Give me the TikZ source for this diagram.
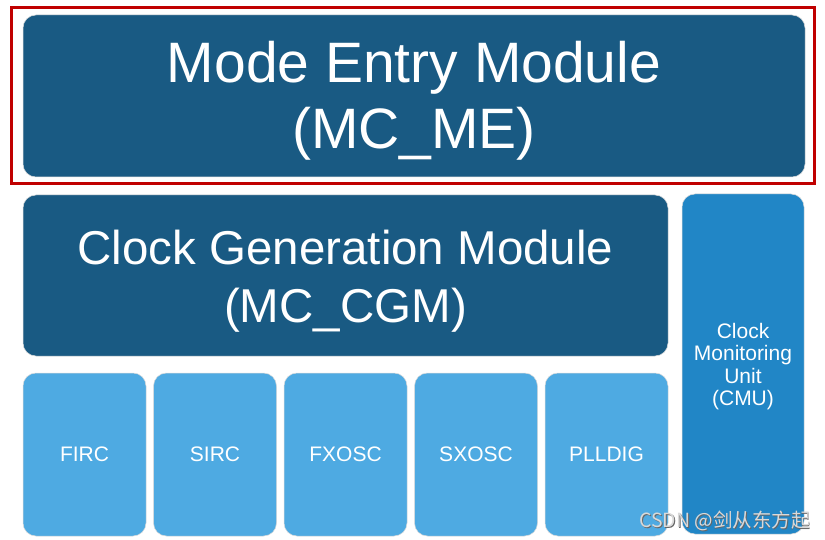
\documentclass[tikz,border=0pt]{standalone}
\usepackage{fontspec}
\setmainfont{Liberation Sans}
\newfontfamily\cjk{Noto Sans CJK SC}
\definecolor{dkblue}{HTML}{195A83}
\definecolor{mdblue}{HTML}{2186C6}
\definecolor{ltblue}{HTML}{4EAAE2}
\definecolor{frame}{HTML}{C00000}
\begin{document}
\begin{tikzpicture}[x=1pt,y=-1pt,
  box/.style={rounded corners=13pt, inner sep=0pt, align=center, text=white, draw=white!85!black, line width=0.5pt},
  label/.style={align=center, text=white, inner sep=0pt},
  small/.style={box, fill=ltblue, minimum width=123pt, minimum height=163pt, font=\fontsize{21}{22.5}\selectfont}]
\useasboundingbox (0,0) rectangle (825,540);
\fill[white] (0,0) rectangle (825,540);
\draw[frame, line width=3pt] (11.5,8) rectangle (814,184);
\node[box, fill=dkblue, minimum width=782pt, minimum height=162pt] (me) at (414,96) {};
\node[label, font=\fontsize{57}{66}\selectfont] (metext) at (414,101) {Mode Entry Module\\(MC\_ME)};
\node[box, fill=dkblue, minimum width=645pt, minimum height=161pt] (cgm) at (345.5,275.5) {};
\node[label, font=\fontsize{47.5}{58}\selectfont] (cgmtext) at (345.5,281) {Clock Generation Module\\(MC\_CGM)};
\node[box, fill=mdblue, minimum width=122pt, minimum height=340pt] (cmu) at (743,364) {};
\node[label, font=\fontsize{21}{22.5}\selectfont] (cmutext) at (743,366.5) {Clock\\Monitoring\\Unit\\(CMU)};
\node[small] (firc) at (84.5,454.5) {FIRC};
\node[small] (sirc) at (215,454.5) {SIRC};
\node[small] (fxosc) at (345.5,454.5) {FXOSC};
\node[small] (sxosc) at (476,454.5) {SXOSC};
\node[small] (plldig) at (606.5,454.5) {PLLDIG};
\node[font=\cjk\fontsize{19.5}{20}\selectfont, text=black!60, inner sep=0pt] (wmshadow) at (725.8,521.8) {CSDN @剑从东方起};
\node[font=\cjk\fontsize{19.5}{20}\selectfont, text=black!15, inner sep=0pt] (wm) at (725,521) {CSDN @剑从东方起};
\end{tikzpicture}
\end{document}
